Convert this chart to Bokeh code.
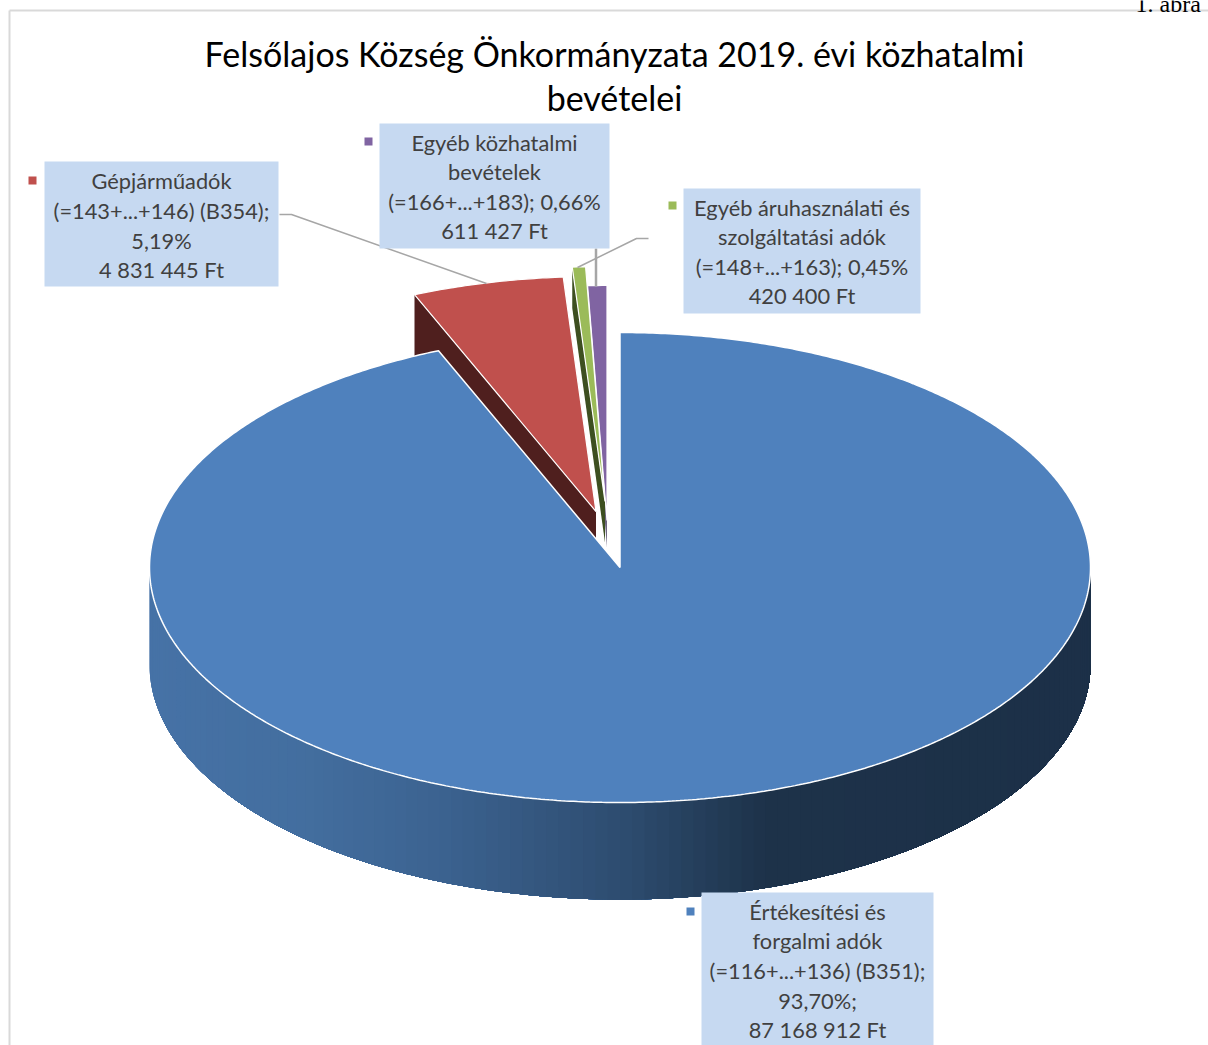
import math
from bokeh.plotting import figure
from bokeh.embed import file_html
from bokeh.resources import INLINE
from bokeh.core.properties import value

# ---- data ----
categories = ["Értékesítési és forgalmi adók", "Gépjárműadók",
              "Egyéb áruhasználati és szolgáltatási adók", "Egyéb közhatalmi bevételek"]
amounts = [87168912, 4831445, 420400, 611427]
title_lines = ["Felsőlajos Község Önkormányzata 2019. évi közhatalmi", "bevételei"]
label_blue = ["Értékesítési és", "forgalmi adók", "(=116+...+136) (B351);", "93,70%;", "87 168 912 Ft"]
label_red = ["Gépjárműadók", "(=143+...+146) (B354);", "5,19%", "4 831 445 Ft"]
label_green = ["Egyéb áruhasználati és", "szolgáltatási adók", "(=148+...+163); 0,45%", "420 400 Ft"]
label_purple = ["Egyéb közhatalmi", "bevételek", "(=166+...+183); 0,66%", "611 427 Ft"]
page_note = ["1. ábra"]

# ---- styling / layout ----
W, H = 1208, 1045
FONT = "Lato"
TOPS = ["#4f81bd", "#c0504d", "#9bbb59", "#8064a2"]
WALLS = [None, "#4f1f1e", "#3d4f20", "#6d6580"]
WALL_DROP = [None, 97, 41, 27]
CX, CY, RX, RY, DEPTH = 620.5, 568, 470.5, 235, 97
OFFSETS = [(0, 0), (-24, -56), (-15, -66), (-13, -47)]

p = figure(width=W, height=H, x_range=(1, W + 1), y_range=(H + 1, 1),
           toolbar_location=None, output_backend="svg", min_border=0,
           outline_line_color=None, background_fill_color="white",
           x_axis_type=None, y_axis_type=None)
p.grid.visible = False

# frame
p.line([10, 10], [H + 1, 11], line_color="#d9d9d9", line_width=2)
p.line([10, W + 1], [11, 11], line_color="#d9d9d9", line_width=2)

# clipped page note above the frame
p.text([1136], [4], text=page_note, text_align="left", text_baseline="alphabetic",
       text_font=value("Liberation Serif"), text_font_size="24px", text_color="#000000")

total = sum(amounts)
edges = [0.0]
for a in amounts:
    edges.append(edges[-1] + 360.0 * a / total)


def pt(theta, dx=0, dy=0, drop=0):
    t = math.radians(theta)
    return CX + RX * math.sin(t) + dx, CY - RY * math.cos(t) + dy + drop


def arc(a0, a1, dx=0, dy=0, drop=0, step=0.5):
    n = max(2, int(abs(a1 - a0) / step))
    pts = [pt(a0 + (a1 - a0) * i / n, dx, dy, drop) for i in range(n + 1)]
    return [q[0] for q in pts], [q[1] for q in pts]


def mix(stops, x):
    for (x0, c0), (x1, c1) in zip(stops, stops[1:]):
        if x <= x1:
            f = max(0.0, (x - x0) / (x1 - x0))
            rgb = [round(int(c0[i:i + 2], 16) * (1 - f) + int(c1[i:i + 2], 16) * f) for i in (1, 3, 5)]
            return "#%02x%02x%02x" % tuple(rgb)
    return stops[-1][1]


GRADIENT = [(150, "#4672a6"), (300, "#436e9f"), (430, "#3c6391"), (620, "#2d4c6f"),
            (760, "#1d3249"), (1090, "#1c3048")]

# blue side wall: overlapping bands painted left to right, so no seams show
xs_list, ys_list, cols = [], [], []
N = 120
for i in range(N):
    a0 = 90 + 180 * (N - i) / N
    tx, ty = arc(a0, 90, step=1.0)
    bx, by = arc(a0, 90, drop=DEPTH, step=1.0)
    xs_list.append(tx + bx[::-1])
    ys_list.append(ty + by[::-1])
    cols.append(mix(GRADIENT, tx[0]))
p.patches(xs_list, ys_list, fill_color=cols, line_color=None)

# exploded slices, back to front: purple, green, red
for k in (3, 2, 1):
    dx, dy = OFFSETS[k]
    a0, a1 = edges[k], edges[k + 1]
    ox, oy = pt(a0, dx, dy)
    ax, ay = CX + dx, CY + dy
    d = WALL_DROP[k]
    p.patch([ox, ax, ax, ox], [oy, ay, ay + d, oy + d], fill_color=WALLS[k], line_color=None)
    sx, sy = arc(a0, a1, dx, dy)
    p.patch(sx + [ax], sy + [ay], fill_color=TOPS[k], line_color="white", line_width=1.2)

# main slice
sx, sy = arc(edges[0], edges[1])
p.patch(sx + [CX], sy + [CY], fill_color=TOPS[0], line_color="white", line_width=1.5)

# leader lines
p.line([280, 292, 487], [215, 215, 284], line_color="#a6a6a6", line_width=1.5)
p.line([649, 637, 578], [239, 239, 268], line_color="#a6a6a6", line_width=1.5)
p.line([596.5, 596.5], [249, 287], line_color="#a6a6a6", line_width=2.5)

# label boxes and texts
boxes = [(702, 934, 893, 1047, label_blue, [912, 941, 971, 1001, 1030], (691, 912), TOPS[0]),
         (45, 279, 162, 287, label_red, [181, 211, 241, 270], (33, 181), TOPS[1]),
         (684, 921, 189, 314, label_green, [208, 237, 267, 296], (673, 206), TOPS[2]),
         (380, 610, 124, 249, label_purple, [143, 172, 202, 231], (369, 142), TOPS[3])]
for x0, x1, y0, y1, lines, ys, mk, col in boxes:
    p.quad(left=x0, right=x1, top=y0, bottom=y1, fill_color="#c6d9f1", line_color=None)
    p.text([(x0 + x1) / 2] * len(lines), ys, text=lines, text_align="center", text_baseline="middle",
           text_font=value(FONT), text_font_size="21.8px", text_color="#404040")
    p.quad(left=mk[0] - 4, right=mk[0] + 4, top=mk[1] - 4, bottom=mk[1] + 4, fill_color=col, line_color=None)

# title
p.text([615, 615], [54, 98], text=title_lines, text_align="center", text_baseline="middle",
       text_font=value(FONT), text_font_size="34px", text_color="#000000")

open("out.html", "w").write(file_html(p, INLINE))
